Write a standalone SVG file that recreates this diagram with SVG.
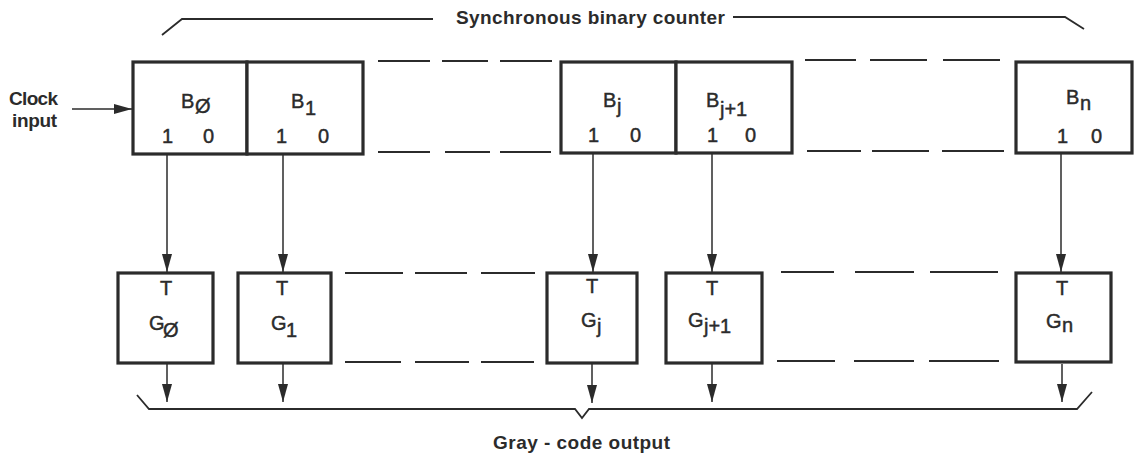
<svg xmlns="http://www.w3.org/2000/svg" width="1135" height="458" viewBox="0 0 1135 458">
  <defs>
    <marker id="head" viewBox="0 0 18 10" refX="18" refY="5" markerWidth="18" markerHeight="10" markerUnits="userSpaceOnUse" orient="auto">
      <path d="M0,0 L18,5 L0,10 Z" fill="#2b2b2b"/>
    </marker>
  </defs>
  <style>
    .box { fill: #ffffff; stroke: #2b2b2b; stroke-width: 3.2; }
    .conn { stroke: #2b2b2b; stroke-width: 1.5; fill: none; marker-end: url(#head); }
    .dash { stroke: #2b2b2b; stroke-width: 2; fill: none; }
    .brace { stroke: #2b2b2b; stroke-width: 1.8; fill: none; }
    .lbl { font-family: "Liberation Sans", Arial, sans-serif; font-size: 20px; fill: #2b2b2b; stroke: #2b2b2b; stroke-width: 0.45; }
    .cap { font-family: "Liberation Sans", Arial, sans-serif; font-size: 19px; font-weight: bold; fill: #2b2b2b; }
  </style>

  <rect width="1135" height="458" fill="#ffffff"/>

  <!-- counter brace and title -->
  <g id="title">
    <polyline class="brace" points="162,35 182,19 433,19"/>
    <polyline class="brace" points="733,17 1065,17 1084,29"/>
    <text class="cap" x="456" y="24" textLength="269" lengthAdjust="spacing">Synchronous binary counter</text>
  </g>

  <!-- clock input -->
  <g id="clock">
    <text class="cap" x="9" y="105" textLength="49" lengthAdjust="spacing">Clock</text>
    <text class="cap" x="12" y="127" textLength="45" lengthAdjust="spacing">input</text>
  </g>

  <!-- counter stages -->
  <g id="B0">
    <rect class="box" x="133" y="62" width="114" height="92"/>
    <text class="lbl" x="181" y="108">B</text>
    <text class="lbl" x="195" y="113">Ø</text>
    <text class="lbl" x="162" y="143">1</text>
    <text class="lbl" x="203" y="143">0</text>
  </g>
  <g id="B1">
    <rect class="box" x="247" y="62" width="116" height="92"/>
    <text class="lbl" x="291" y="108">B</text>
    <text class="lbl" x="305" y="115">1</text>
    <text class="lbl" x="276" y="143">1</text>
    <text class="lbl" x="318" y="143">0</text>
  </g>
  <g id="Bj">
    <rect class="box" x="561" y="62" width="115" height="91"/>
    <text class="lbl" x="603" y="107">B</text>
    <text class="lbl" x="617" y="113">j</text>
    <text class="lbl" x="588" y="142">1</text>
    <text class="lbl" x="630" y="142">0</text>
  </g>
  <g id="Bj1">
    <rect class="box" x="676" y="62" width="116" height="91"/>
    <text class="lbl" x="706" y="107">B</text>
    <text class="lbl" x="720" y="116">j+1</text>
    <text class="lbl" x="707" y="142">1</text>
    <text class="lbl" x="745" y="142">0</text>
  </g>
  <g id="Bn">
    <rect class="box" x="1016" y="62" width="116" height="91"/>
    <text class="lbl" x="1066" y="104">B</text>
    <text class="lbl" x="1080" y="110">n</text>
    <text class="lbl" x="1057" y="143">1</text>
    <text class="lbl" x="1091" y="143">0</text>
  </g>

  <!-- gray-code toggle stages -->
  <g id="G0">
    <rect class="box" x="118" y="273" width="95" height="90"/>
    <text class="lbl" x="160" y="295">T</text>
    <text class="lbl" x="149" y="330">G</text>
    <text class="lbl" x="163" y="337">Ø</text>
  </g>
  <g id="G1">
    <rect class="box" x="238" y="273" width="93" height="90"/>
    <text class="lbl" x="276" y="295">T</text>
    <text class="lbl" x="271" y="330">G</text>
    <text class="lbl" x="286" y="337">1</text>
  </g>
  <g id="Gj">
    <rect class="box" x="547" y="273" width="90" height="90"/>
    <text class="lbl" x="586" y="293">T</text>
    <text class="lbl" x="581" y="327">G</text>
    <text class="lbl" x="597" y="333">j</text>
  </g>
  <g id="Gj1">
    <rect class="box" x="666" y="273" width="96" height="90"/>
    <text class="lbl" x="706" y="295">T</text>
    <text class="lbl" x="688" y="327">G</text>
    <text class="lbl" x="704" y="333">j+1</text>
  </g>
  <g id="Gn">
    <rect class="box" x="1016" y="273" width="95" height="89"/>
    <text class="lbl" x="1056" y="295">T</text>
    <text class="lbl" x="1046" y="328">G</text>
    <text class="lbl" x="1062" y="332">n</text>
  </g>

  <!-- connectors -->
  <g id="connectors">
    <line class="conn" x1="72" y1="109" x2="132" y2="109"/>

    <line class="conn" x1="167" y1="155" x2="167" y2="272"/>
    <line class="conn" x1="283" y1="155" x2="283" y2="272"/>
    <line class="conn" x1="593" y1="154" x2="593" y2="272"/>
    <line class="conn" x1="712" y1="154" x2="712" y2="272"/>
    <line class="conn" x1="1061" y1="154" x2="1061" y2="272"/>

    <line class="conn" x1="167" y1="364" x2="167" y2="402"/>
    <line class="conn" x1="283" y1="364" x2="283" y2="402"/>
    <line class="conn" x1="592" y1="364" x2="592" y2="403"/>
    <line class="conn" x1="712" y1="364" x2="712" y2="402"/>
    <line class="conn" x1="1062" y1="364" x2="1062" y2="402"/>

    <!-- continuation dashes between stages -->
    <path class="dash" d="M378,61 H430 M442,61 H488 M500,61 H552"/>
    <path class="dash" d="M378,152 H430 M445,152 H490 M500,152 H551"/>
    <path class="dash" d="M805,60 H856 M870,60 H927 M943,60 H1000"/>
    <path class="dash" d="M807,151 H861 M872,151 H929 M942,151 H1004"/>
    <path class="dash" d="M345,273 H403 M415,273 H467 M481,273 H535"/>
    <path class="dash" d="M345,362 H401 M415,362 H469 M481,362 H534"/>
    <path class="dash" d="M781,272 H834 M855,272 H914 M930,272 H998"/>
    <path class="dash" d="M777,361 H835 M854,361 H914 M929,361 H999"/>
  </g>

  <!-- output brace and caption -->
  <g id="output">
    <polyline class="brace" points="137,395 149,409 575,409 582,418 589,409 1077,409 1092,392"/>
    <text class="cap" x="493" y="449" textLength="177" lengthAdjust="spacing">Gray - code output</text>
  </g>
</svg>
